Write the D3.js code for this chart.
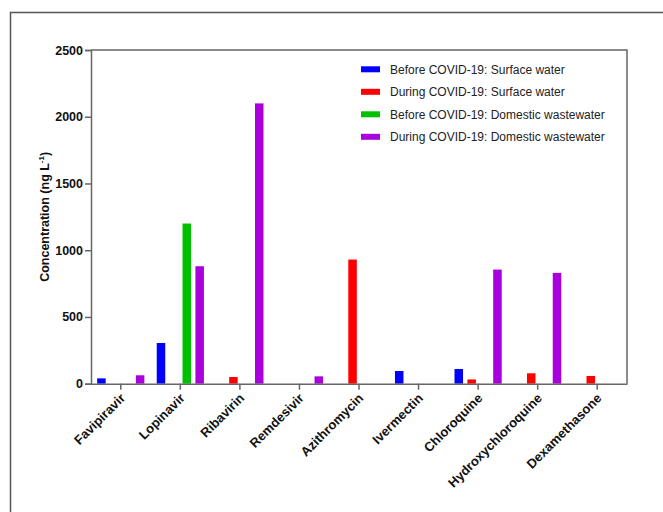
<!DOCTYPE html>
<html>
<head>
<meta charset="utf-8">
<script src="https://cdn.jsdelivr.net/npm/d3@7"></script>
<style>
  body { margin: 0; background: #fff; }
  svg { display: block; font-family: "Liberation Sans", Arial, sans-serif; }
</style>
</head>
<body>
<div id="chart"></div>
<script>
var drugs = ["Favipiravir", "Lopinavir", "Ribavirin", "Remdesivir", "Azithromycin",
             "Ivermectin", "Chloroquine", "Hydroxychloroquine", "Dexamethasone"];

var seriesNames = ["Before COVID-19: Surface water", "During COVID-19: Surface water",
                   "Before COVID-19: Domestic wastewater", "During COVID-19: Domestic wastewater"];

// concentrations in ng/L, null = not reported
var beforeSurface  = [40, 305, null, null, null, 95, 110, null, null];
var duringSurface  = [null, null, 50, null, 930, null, 32, 78, 58];
var beforeDomestic = [null, 1200, null, null, null, null, null, null, null];
var duringDomestic = [63, 880, 2100, 55, null, null, 855, 830, null];

var yTicks = [0, 500, 1000, 1500, 2000, 2500];

var color = ["#0000ff", "#ff0000", "#00c000", "#aa00dd"];

var allSeries = [beforeSurface, duringSurface, beforeDomestic, duringDomestic];

var width = 663, height = 512;
var plotLeft = 91, plotRight = 627, plotTop = 50, plotBottom = 383.7;

var svg = d3.select("#chart").append("svg")
    .attr("width", width)
    .attr("height", height);

// outer figure frame (cropped)
svg.append("rect")
    .attr("x", 10.5).attr("y", 12.5)
    .attr("width", 700).attr("height", 600)
    .attr("fill", "none")
    .attr("stroke", "#555")
    .attr("stroke-width", 1.5);

var x0 = d3.scaleBand()
    .domain(drugs)
    .range([plotLeft, plotRight])
    .paddingInner(0.134)
    .paddingOuter(0.067);

var x1 = d3.scaleBand()
    .domain(d3.range(4))
    .range([0, x0.bandwidth()])
    .paddingInner(0.34)
    .paddingOuter(0.17);

var y = d3.scaleLinear()
    .domain([0, 2500])
    .range([plotBottom, plotTop]);

// bars
allSeries.forEach(function(vals, s) {
    svg.append("g").selectAll("rect")
        .data(vals.map(function(v, i) { return {drug: drugs[i], v: v}; })
                  .filter(function(d) { return d.v != null; }))
        .join("rect")
        .attr("x", function(d) { return x0(d.drug) + x1(s); })
        .attr("y", function(d) { return y(d.v); })
        .attr("width", x1.bandwidth())
        .attr("height", function(d) { return y(0) - y(d.v); })
        .attr("fill", color[s]);
});

// plot box (top and right)
svg.append("path")
    .attr("d", "M" + plotLeft + "," + plotTop + "H" + plotRight + "V" + plotBottom)
    .attr("fill", "none")
    .attr("stroke", "#666")
    .attr("stroke-width", 1.5);

// y axis
var yAxis = svg.append("g")
    .attr("transform", "translate(" + plotLeft + ",0)")
    .call(d3.axisLeft(y).tickValues(yTicks).tickSize(6).tickPadding(2).tickFormat(d3.format("d")));
yAxis.selectAll("path, line").attr("stroke", "#666").attr("stroke-width", 1.5);
yAxis.selectAll("text")
    .attr("font-size", 12.5).attr("font-weight", "bold").attr("fill", "#111")
    .style("font-family", "Liberation Sans, Arial, sans-serif");

// x axis
var xAxis = svg.append("g")
    .attr("transform", "translate(0," + plotBottom + ")")
    .call(d3.axisBottom(x0).tickSize(6).tickSizeOuter(0));
xAxis.selectAll("path, line").attr("stroke", "#666").attr("stroke-width", 1.5);
xAxis.selectAll("text")
    .attr("font-size", 13).attr("font-weight", "bold").attr("fill", "#111")
    .style("font-family", "Liberation Sans, Arial, sans-serif")
    .attr("text-anchor", "end")
    .attr("dy", "0.35em")
    .attr("transform", "translate(2,12) rotate(-45)")
    .attr("y", 0).attr("x", 0);

// y axis title
var yTitle = svg.append("text")
    .attr("transform", "translate(49," + ((plotTop + plotBottom) / 2) + ") rotate(-90)")
    .attr("text-anchor", "middle")
    .attr("font-size", 12.5)
    .attr("font-weight", "bold")
    .attr("fill", "#111");
yTitle.append("tspan").text("Concentration (ng L");
yTitle.append("tspan").attr("font-size", 8).attr("dy", -5).text("-1");
yTitle.append("tspan").attr("dy", 5).text(")");

// legend
var legend = svg.append("g").selectAll("g")
    .data(seriesNames)
    .join("g")
    .attr("transform", function(d, i) { return "translate(361," + (69.3 + i * 22.5) + ")"; });

legend.append("rect")
    .attr("x", 0).attr("y", -3)
    .attr("width", 19).attr("height", 6)
    .attr("fill", function(d, i) { return color[i]; });

legend.append("text")
    .attr("x", 29).attr("y", 0)
    .attr("dy", "0.35em")
    .attr("font-size", 12)
    .attr("fill", "#222")
    .text(function(d) { return d; });
</script>
</body>
</html>
